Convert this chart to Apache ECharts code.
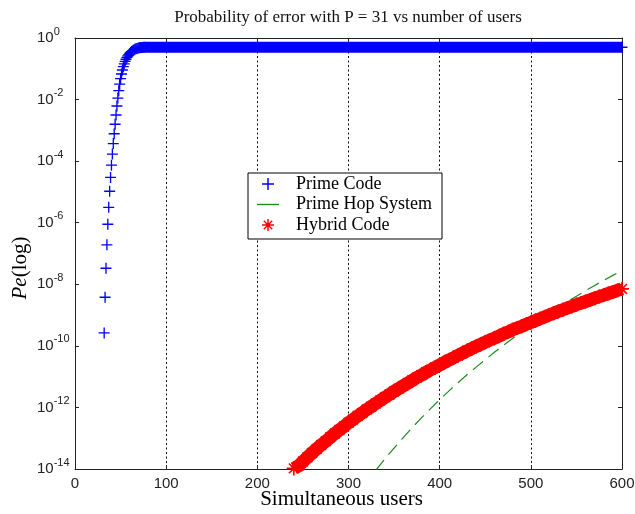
<!DOCTYPE html>
<html>
<head>
<meta charset="utf-8">
<script src="https://cdn.jsdelivr.net/npm/echarts@6/dist/echarts.min.js"></script>
<style>
html,body{margin:0;padding:0;background:#fff;}
#chart{width:635px;height:514px;}
</style>
</head>
<body>
<div id="chart"></div>
<script>
// ---- text ----
const chartTitle = 'Probability of error with P = 31 vs number of users';
const xAxisTitle = 'Simultaneous users';
const seriesNames = ['Prime Code', 'Prime Hop System', 'Hybrid Code'];

// ---- axis ticks ----
const xTickValues = [0, 100, 200, 300, 400, 500, 600];
const yTickExponents = [0, -2, -4, -6, -8, -10, -12, -14];

// ---- Prime Code (blue +), read per user ----
const primeUsers = [32,33,34,35,36,37,38,39,40,41,42,43,44,45,46,47,48,49,50,51,52,53,54,55,56,57,58,59,60,61,62,63,64,65,66,67,68,69,70,71,72,73,74,75];
const primePe = [2.63e-10,3.80e-9,3.31e-8,1.91e-7,8.91e-7,3.16e-6,1.05e-5,2.95e-5,7.41e-5,1.70e-4,3.72e-4,7.76e-4,1.58e-3,3.16e-3,6.17e-3,0.0112,0.0195,0.0316,0.0479,0.0676,0.0912,0.117,0.145,0.174,0.204,0.234,0.263,0.288,0.316,0.339,0.363,0.380,0.398,0.417,0.437,0.447,0.457,0.468,0.479,0.484,0.490,0.493,0.495,0.498];
// saturated part of Prime Code (solid band of markers)
const primePlateauUsers = [76, 600];
const primePlateauPe = [0.5, 0.5];

// ---- Prime Hop System (green dashed), log10(Pe) ----
const hopUsers = [330,340,350,360,370,380,390,400,410,420,430,440,450,460,470,480,490,500,510,520,530,540,550,560,570,580,590,600];
const hopLogPe = [-14.04,-13.67,-13.32,-12.98,-12.65,-12.34,-12.04,-11.75,-11.47,-11.20,-10.94,-10.69,-10.45,-10.21,-9.98,-9.76,-9.55,-9.34,-9.14,-8.94,-8.75,-8.56,-8.39,-8.21,-8.04,-7.87,-7.71,-7.56];

// ---- Hybrid Code (red *), log10(Pe) ----
const hybridUsers = [240,245,250,255,260,265,270,275,280,285,290,295,300,305,310,315,320,325,330,335,340,345,350,355,360,365,370,375,380,385,390,395,400,405,410,415,420,425,430,435,440,445,450,455,460,465,470,475,480,485,490,495,500,505,510,515,520,525,530,535,540,545,550,555,560,565,570,575,580,585,590,595,600];
const hybridLogPe = [-13.98,-13.90,-13.76,-13.62,-13.48,-13.35,-13.22,-13.10,-12.97,-12.85,-12.73,-12.62,-12.50,-12.39,-12.28,-12.18,-12.07,-11.97,-11.87,-11.77,-11.67,-11.58,-11.48,-11.39,-11.30,-11.21,-11.12,-11.03,-10.95,-10.86,-10.78,-10.70,-10.62,-10.54,-10.46,-10.39,-10.31,-10.24,-10.16,-10.09,-10.02,-9.95,-9.88,-9.81,-9.75,-9.68,-9.61,-9.55,-9.48,-9.42,-9.36,-9.30,-9.24,-9.18,-9.12,-9.06,-9.00,-8.94,-8.88,-8.83,-8.77,-8.72,-8.66,-8.61,-8.56,-8.51,-8.45,-8.40,-8.35,-8.30,-8.25,-8.20,-8.15];

// ---- build ----
const zip = (xs, ys) => xs.map((x, i) => [x, ys[i]]);
const fromLog = (arr) => arr.map(e => Math.pow(10, e));

const PLUS = 'path://M0.44,0H0.56V0.44H1V0.56H0.56V1H0.44V0.56H0V0.44H0.44Z';
const STAR = 'path://M0,4.4H10V5.6H0Z M4.4,0H5.6V10H4.4Z M1.92,1.08L8.92,8.08L8.08,8.92L1.08,1.92Z M8.92,1.92L1.92,8.92L1.08,8.08L8.08,1.08Z';
const DASH_ICON = 'path://M0,0H22V1.4H0Z';

const BLUE = '#0000ff', GREEN = '#1f8a1f', RED = '#ff0000';
const SANS = 'Liberation Sans', SERIF = 'Liberation Serif';

const xMin = xTickValues[0], xMax = xTickValues[xTickValues.length - 1];
const xStep = xTickValues[1] - xTickValues[0];
const yMinExp = Math.min(...yTickExponents), yMaxExp = Math.max(...yTickExponents);
const yStepExp = Math.abs(yTickExponents[0] - yTickExponents[1]);

const chart = echarts.init(document.getElementById('chart'), null, {renderer: 'canvas'});

const frameColor = '#222';
const baseX = {
  type: 'value', min: xMin, max: xMax, interval: xStep
};
const baseY = {
  type: 'log', logBase: 10, min: Math.pow(10, yMinExp), max: Math.pow(10, yMaxExp), interval: yStepExp
};

chart.setOption({
  animation: false,
  backgroundColor: '#fff',
  title: {
    text: chartTitle,
    left: 348, top: 9, padding: 0, textAlign: 'center',
    textStyle: {fontFamily: SERIF, fontSize: 17, fontWeight: 'normal', color: '#111'}
  },
  grid: {left: 75, right: 13, top: 38, bottom: 45, containLabel: false, outerBoundsMode: 'none'},
  legend: {
    orient: 'vertical', left: 248, top: 173,
    backgroundColor: '#fff', borderColor: '#000', borderWidth: 1,
    padding: [2, 10, 5, 9], itemGap: 2.5, itemWidth: 22, itemHeight: 12,
    selectedMode: false,
    textStyle: {fontFamily: SERIF, fontSize: 18, color: '#000', lineHeight: 18, padding: [0, 0, 0, 12]},
    data: [
      {name: seriesNames[0]},
      {name: seriesNames[1], icon: DASH_ICON},
      {name: seriesNames[2]}
    ]
  },
  xAxis: [
    Object.assign({}, baseX, {
      position: 'bottom',
      name: xAxisTitle, nameLocation: 'middle', nameGap: 20, nameMoveOverlap: false,
      nameTextStyle: {fontFamily: SERIF, fontSize: 21, color: '#000', padding: [0, 14, 0, 0]},
      axisLine: {show: true, onZero: false, lineStyle: {color: frameColor, width: 1}},
      axisTick: {show: true, inside: true, length: 4, lineStyle: {color: frameColor}},
      axisLabel: {show: true, margin: 7, fontFamily: SANS, fontSize: 15, color: '#222'},
      splitLine: {show: true, lineStyle: {color: '#111', type: [2, 2.5], width: 1}}
    }),
    Object.assign({}, baseX, {
      position: 'top',
      axisLine: {show: true, onZero: false, lineStyle: {color: frameColor, width: 1}},
      axisTick: {show: true, inside: true, length: 4, lineStyle: {color: frameColor}},
      axisLabel: {show: false},
      splitLine: {show: false}
    })
  ],
  yAxis: [
    Object.assign({}, baseY, {
      position: 'left',
      name: '{i|Pe}{n|(log)}', nameLocation: 'middle', nameGap: 44, nameRotate: 90, nameMoveOverlap: false,
      nameTextStyle: {
        padding: [0, 29, 0, 0],
        rich: {
          i: {fontFamily: SERIF, fontStyle: 'italic', fontSize: 21, color: '#000'},
          n: {fontFamily: SERIF, fontSize: 21, color: '#000'}
        }
      },
      axisLine: {show: true, onZero: false, lineStyle: {color: frameColor, width: 1}},
      axisTick: {show: true, inside: true, length: 4, lineStyle: {color: frameColor}},
      axisLabel: {
        show: true, align: 'left', margin: 38,
        formatter: function (v) {
          const e = Math.round(Math.log10(v));
          return '{b|10}{s|' + e + '}';
        },
        rich: {
          b: {fontFamily: SANS, fontSize: 15, color: '#222', lineHeight: 24, verticalAlign: 'middle'},
          s: {fontFamily: SANS, fontSize: 11, color: '#222', lineHeight: 12, verticalAlign: 'top'}
        }
      },
      splitLine: {show: false},
      minorTick: {show: false}
    }),
    Object.assign({}, baseY, {
      position: 'right',
      axisLine: {show: true, onZero: false, lineStyle: {color: frameColor, width: 1}},
      axisTick: {show: true, inside: true, length: 4, lineStyle: {color: frameColor}},
      axisLabel: {show: false},
      splitLine: {show: false}
    })
  ],
  series: [
    {
      name: seriesNames[0], type: 'scatter', z: 3,
      symbol: PLUS, symbolSize: 11,
      itemStyle: {color: BLUE, opacity: 1},
      data: zip(primeUsers, primePe)
    },
    {
      name: seriesNames[0], type: 'line', z: 3, clip: false,
      symbol: PLUS, symbolSize: 11, showSymbol: true,
      itemStyle: {color: BLUE},
      lineStyle: {color: BLUE, width: 11, cap: 'butt'},
      data: zip(primePlateauUsers, primePlateauPe)
    },
    {
      name: seriesNames[1], type: 'line', z: 2,
      symbol: 'none', showSymbol: false,
      itemStyle: {color: GREEN},
      lineStyle: {color: GREEN, width: 1.2, type: [13, 7]},
      data: zip(hopUsers, fromLog(hopLogPe))
    },
    {
      name: seriesNames[2], type: 'scatter', z: 5,
      symbol: STAR, symbolSize: 14,
      itemStyle: {color: RED, opacity: 1},
      data: zip(hybridUsers, fromLog(hybridLogPe))
    },
    {
      name: seriesNames[2], type: 'line', z: 4,
      symbol: 'none', showSymbol: false,
      lineStyle: {color: RED, width: 13},
      itemStyle: {color: RED},
      data: zip(hybridUsers, fromLog(hybridLogPe))
    }
  ]
});
</script>
</body>
</html>
